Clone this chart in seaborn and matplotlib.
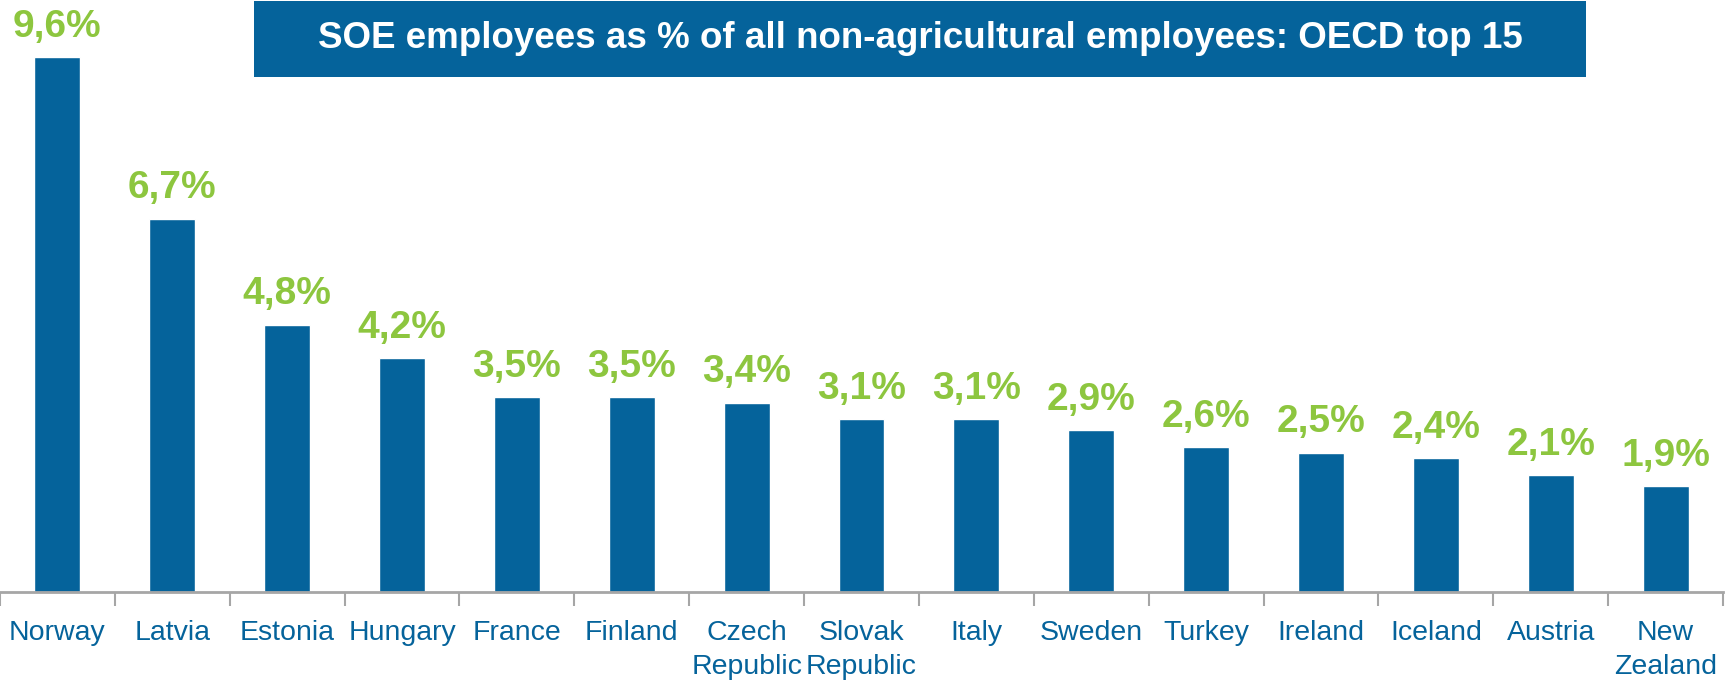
import matplotlib
matplotlib.use("Agg")
import matplotlib.pyplot as plt
import seaborn as sns
import pandas as pd
from matplotlib.patches import Rectangle

# Chart data
countries = ["Norway", "Latvia", "Estonia", "Hungary", "France", "Finland",
             "Czech\nRepublic", "Slovak\nRepublic", "Italy", "Sweden", "Turkey",
             "Ireland", "Iceland", "Austria", "New\nZealand"]
shares = [9.6, 6.7, 4.8, 4.2, 3.5, 3.5, 3.4, 3.1, 3.1, 2.9, 2.6, 2.5, 2.4, 2.1, 1.9]
title = "SOE employees as % of all non-agricultural employees: OECD top 15"

BLUE = "#05639B"
GREEN = "#8DC63F"
GREY = "#A6A6A6"

sns.set_style("white")
plt.rcParams["font.family"] = ["Liberation Sans", "DejaVu Sans"]

df = pd.DataFrame({"country": countries, "share": shares})

W, H = 1727, 682
fig = plt.figure(figsize=(W / 100, H / 100), dpi=100)
ax = fig.add_axes([0, 1 - 592 / H, 1723 / W, 592 / H])

sns.barplot(data=df, x="country", y="share", color=BLUE, width=0.4,
            saturation=1, ax=ax)

ax.set_xlim(-0.5, len(countries) - 0.5)
ax.set_ylim(0, 10.63)
ax.set_xlabel("")
ax.set_ylabel("")
ax.set_yticks([])

for s in ["top", "right", "left"]:
    ax.spines[s].set_visible(False)
ax.spines["bottom"].set_color(GREY)
ax.spines["bottom"].set_linewidth(2)

# tick marks sit between the categories
ax.set_xticks([i - 0.5 for i in range(len(countries) + 1)], minor=True)
ax.tick_params(axis="x", which="minor", length=10, width=1.5, color=GREY,
               direction="out", bottom=True)
ax.tick_params(axis="x", which="major", length=0, pad=20,
               labelsize=20.5, labelcolor=BLUE)
for lab in ax.get_xticklabels():
    lab.set_linespacing(1.4)

labels = [f"{v:.1f}%".replace(".", ",") for v in shares]
ax.bar_label(ax.containers[0], labels=labels, padding=9, color=GREEN,
             fontsize=28, fontweight="bold")

# title box
fig.patches.append(Rectangle((254 / W, 1 - 77 / H), (1586 - 254) / W, 76 / H,
                             transform=fig.transFigure, facecolor=BLUE,
                             edgecolor="none", zorder=0))
fig.text(920 / W, 1 - 38 / H, title, ha="center", va="center",
         color="white", fontsize=26.5, fontweight="bold")

fig.savefig("out.png", dpi=100)
